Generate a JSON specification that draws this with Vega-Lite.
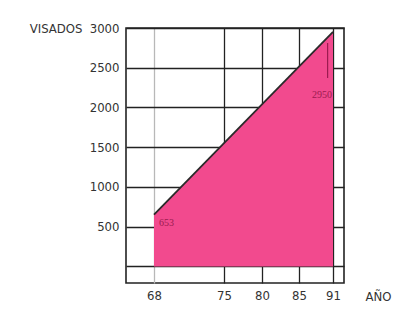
{
  "$schema": "https://vega.github.io/schema/vega-lite/v6.json",
  "width": 218,
  "height": 255,
  "autosize": "none",
  "padding": {"left": 126, "top": 28, "right": 57, "bottom": 26},
  "background": "white",
  "config": {
    "view": {"stroke": "#222", "strokeWidth": 1.6},
    "font": "DejaVu Sans Condensed"
  },
  "datasets": {
    "serie": [
      {"anio": 68, "visados": 653},
      {"anio": 91, "visados": 2950}
    ],
    "marca": [
      {"anio": 90.05, "desde": 2810, "hasta": 2370}
    ]
  },
  "encoding": {
    "x": {
      "field": "anio",
      "type": "quantitative",
      "scale": {
        "domain": [65.2, 68, 75, 80, 85, 91, 92.9],
        "range": [0, 28, 98, 136, 173, 207, 218],
        "nice": false,
        "zero": false
      },
      "axis": {
        "values": [68, 75, 80, 85, 91],
        "title": "AÑO",
        "titleFont": "DejaVu Sans Condensed",
        "titleFontWeight": "normal",
        "titleFontSize": 13,
        "titleColor": "#333",
        "titleAngle": 0,
        "titleAlign": "left",
        "titleBaseline": "middle",
        "titleX": 239,
        "titleY": 13,
        "domain": false,
        "ticks": false,
        "labelFontSize": 13,
        "labelColor": "#333",
        "labelPadding": 6,
        "labelFlush": false,
        "grid": true,
        "gridColor": {"condition": {"test": "datum.value == 68", "value": "#b8b8b8"}, "value": "#222"},
        "gridWidth": 1.3,
        "gridOpacity": 1
      }
    },
    "y": {
      "field": "visados",
      "type": "quantitative",
      "scale": {"domain": [-208, 3000], "nice": false, "zero": false},
      "axis": {
        "values": [0, 500, 1000, 1500, 2000, 2500, 3000],
        "labelExpr": "datum.value == 0 ? '' : datum.value",
        "title": "VISADOS",
        "titleFont": "DejaVu Sans Condensed",
        "titleFontWeight": "normal",
        "titleFontSize": 13,
        "titleColor": "#333",
        "titleAngle": 0,
        "titleAlign": "right",
        "titleBaseline": "middle",
        "titleX": -44,
        "titleY": 0,
        "domain": false,
        "ticks": false,
        "labelFontSize": 13,
        "labelColor": "#333",
        "labelPadding": 7,
        "labelFlush": false,
        "grid": true,
        "gridColor": "#222",
        "gridWidth": 1.3,
        "gridOpacity": 1
      }
    }
  },
  "layer": [
    {
      "data": {"name": "serie"},
      "mark": {"type": "area", "color": "#f24a8e", "opacity": 1, "line": {"color": "#2a2a2a", "strokeWidth": 1.8}},
      "encoding": {"y2": {"datum": 0}}
    },
    {
      "data": {"name": "marca"},
      "mark": {"type": "rule", "color": "#9b1b50", "strokeWidth": 1.2},
      "encoding": {
        "y": {"field": "desde", "type": "quantitative"},
        "y2": {"field": "hasta"}
      }
    },
    {
      "data": {"name": "serie"},
      "transform": [{"filter": "datum.anio == 68"}],
      "mark": {"type": "text", "align": "left", "baseline": "middle", "dx": 5, "dy": 8, "fontSize": 10, "color": "#9b1b50", "font": "Liberation Sans Narrow"},
      "encoding": {"text": {"field": "visados", "type": "nominal"}}
    },
    {
      "data": {"name": "serie"},
      "transform": [{"filter": "datum.anio == 91"}],
      "mark": {"type": "text", "align": "right", "baseline": "middle", "dx": -1, "dy": 63, "fontSize": 10, "color": "#9b1b50", "font": "Liberation Sans Narrow"},
      "encoding": {"text": {"field": "visados", "type": "nominal"}}
    }
  ]
}
